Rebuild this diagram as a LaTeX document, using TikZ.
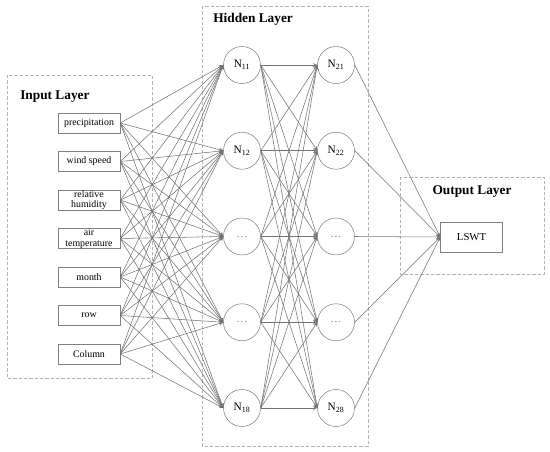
\documentclass[tikz,border=0pt]{standalone}
\usepackage{fontspec}
\setmainfont{Liberation Serif}
\usetikzlibrary{arrows,positioning}

\begin{document}
\begin{tikzpicture}[x=0.75pt,y=-0.75pt]
  \useasboundingbox (0,0) rectangle (550,452);
  \tikzstyle{layerbox} = [draw=gray!60, dash pattern=on 2.5pt off 1.5pt, line width=0.5pt]
  \tikzstyle{title} = [font=\bfseries\fontsize{10}{10}\selectfont, inner sep=0pt]
  \tikzstyle{inbox} = [draw=gray, rectangle, minimum width=46.5pt, minimum height=15pt, inner sep=0pt, align=center, font=\fontsize{7.4}{8}\selectfont]
  \tikzstyle{neuron} = [draw=gray, circle, minimum size=27.75pt, inner sep=0pt, font=\fontsize{8.5}{8.5}\selectfont]
  \tikzstyle{link} = [draw=gray!90!black, line width=0.4pt, >=stealth, ->]
  % layer frames
  \draw[layerbox] (7,75) rectangle (152,378);
  \draw[layerbox] (202,6) rectangle (368,446);
  \draw[layerbox] (400,177) rectangle (544,274);
  \node[title, anchor=west] (intitle) at (20,97) {Input Layer};
  \node[title, anchor=west] (hidtitle) at (213,19) {Hidden Layer};
  \node[title] (outtitle) at (472,192) {Output Layer};
  % input variables
  \foreach \name [count=\i] in {precipitation, wind speed, {relative\\humidity}, {air\\temperature}, month, row, Column}{
    \node[inbox] (in\i) at (89,{84.5+38.5*\i}) {\name};
  }
  % hidden neurons
  \foreach \lab [count=\i] in {N\textsubscript{11}, N\textsubscript{12}, \textcolor{gray}{\ldots}, \textcolor{gray}{\ldots}, N\textsubscript{18}}{
    \node[neuron] (ha\i) at (242,{65+85.75*(\i-1)}) {\lab};
  }
  \foreach \lab [count=\i] in {N\textsubscript{21}, N\textsubscript{22}, \textcolor{gray}{\ldots}, \textcolor{gray}{\ldots}, N\textsubscript{28}}{
    \node[neuron] (hb\i) at (336,{65+85.75*(\i-1)}) {\lab};
  }
  % output
  \node[inbox, minimum height=22.5pt, font=\fontsize{8}{8}\selectfont] (out) at (471.5,237) {LSWT};
  % connections
  \foreach \i in {1,...,7}
    \foreach \j in {1,...,5}
      \draw[link] (in\i.east) -- (ha\j.west);
  \foreach \i in {1,...,5}
    \foreach \j in {1,...,5}
      \draw[link] (ha\i.east) -- (hb\j.west);
  \foreach \i in {1,...,5}
    \draw[link] (hb\i.east) -- (out.west);
\end{tikzpicture}
\end{document}
